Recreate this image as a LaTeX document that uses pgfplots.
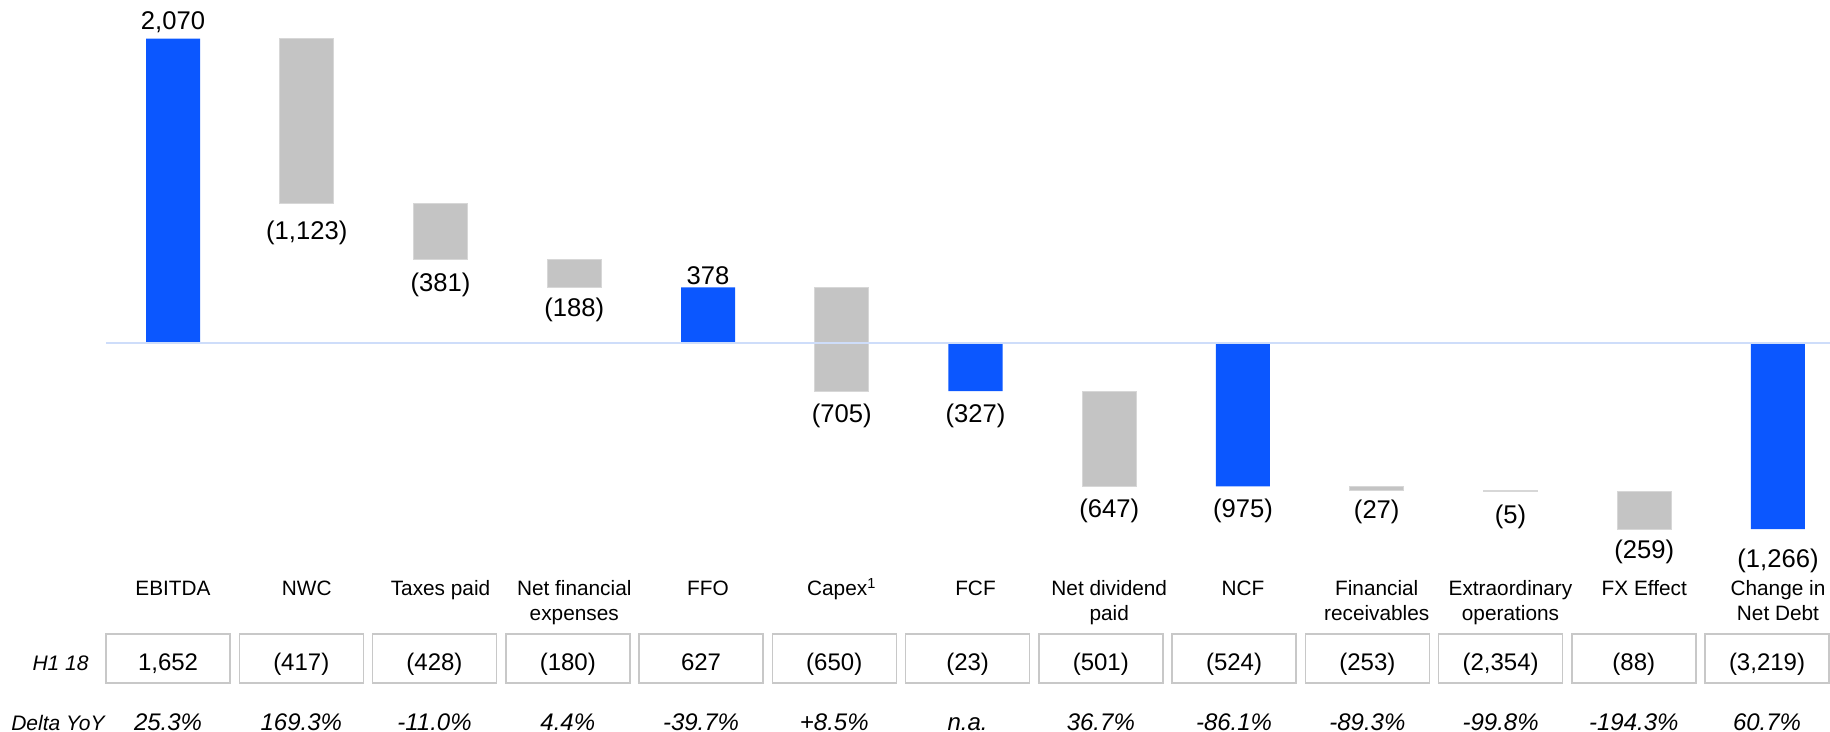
\documentclass[border=0pt]{standalone}
\usepackage{pgfplots}
\pgfplotsset{compat=1.18}
\usepackage{pgfplotstable}
\usepackage{fontspec}
\setmainfont{Liberation Sans}
\definecolor{barblue}{RGB}{11,87,255}
\definecolor{bargray}{RGB}{196,196,196}
\definecolor{bargrayedge}{RGB}{215,215,215}
\definecolor{zeroline}{RGB}{206,221,250}
\definecolor{boxgray}{RGB}{200,200,200}

\pgfplotstableread{
i base delta total
0 0 0 2070
1 2070 -1123 0
2 947 -381 0
3 566 -188 0
4 0 0 378
5 378 -705 0
6 0 0 -327
7 -327 -647 0
8 0 0 -975
9 -975 -27 0
10 -1002 -5 0
11 -1007 -259 0
12 0 0 -1266
}\wf

\newcommand\valfont{\fontsize{12.8}{15}\selectfont}
\newcommand\catfont{\fontsize{10.4}{12}\selectfont}
\newcommand\tabfont{\fontsize{12}{14}\selectfont}
\newcommand\vlab[3]{\node[anchor=base, inner sep=0pt, font=\valfont] at (axis cs:#1,#2) {#3};}
\newcommand\cat[3]{%
  \node[anchor=base, inner sep=0pt, font=\catfont] at (axis cs:#1,-1721) {#2};
  \node[anchor=base, inner sep=0pt, font=\catfont] at (axis cs:#1,-1891) {#3};}
\newcommand\tab[3]{%
  \node[draw=boxgray, line width=0.7pt, minimum width=62pt, minimum height=24.5pt, inner sep=0pt] at (axis cs:#1,-2146) {};
  \node[anchor=base, inner sep=0pt, font=\tabfont] at (axis cs:#1,-2229) {#2};
  \node[anchor=base, inner sep=0pt, font=\tabfont\itshape] at (axis cs:#1,-2636) {#3};}

\begin{document}
\begin{tikzpicture}
\begin{axis}[
  width=915pt, height=366pt, scale only axis,
  xmin=-1.2935, xmax=12.389, ymin=-2646.3, ymax=2333.3,
  hide axis, clip=false,
  ybar stacked, stack negative=on previous, bar width=27pt,
]
\draw[zeroline, line width=0.9pt] (axis cs:-0.5,0) -- (axis cs:12.389,0);
\addplot[draw=none, fill=none] table[x=i, y=base] {\wf};
\addplot[draw=bargrayedge, line width=0.4pt, fill=bargray] table[x=i, y=delta] {\wf};
\addplot[draw=none, fill=barblue] table[x=i, y=total] {\wf};

% value labels
\vlab{0}{2131}{2,070}
\vlab{1}{707}{(1,123)}
\vlab{2}{347}{(381)}
\vlab{3}{177}{(188)}
\vlab{4}{401}{378}
\vlab{5}{-544}{(705)}
\vlab{6}{-544}{(327)}
\vlab{7}{-1190}{(647)}
\vlab{8}{-1184}{(975)}
\vlab{9}{-1197}{(27)}
\vlab{10}{-1231}{(5)}
\vlab{11}{-1469}{(259)}
\vlab{12}{-1524}{(1,266)}

% category labels
\cat{0}{EBITDA}{}
\cat{1}{NWC}{}
\cat{2}{Taxes paid}{}
\cat{3}{Net financial}{expenses}
\cat{4}{FFO}{}
\cat{5}{Capex\textsuperscript{1}}{}
\cat{6}{FCF}{}
\cat{7}{Net dividend}{paid}
\cat{8}{NCF}{}
\cat{9}{Financial}{receivables}
\cat{10}{Extraordinary}{operations}
\cat{11}{FX Effect}{}
\cat{12}{Change in}{Net Debt}

% table rows
\node[anchor=base east, inner sep=0pt, font=\fontsize{10.5}{12}\selectfont\itshape] at (axis cs:-0.628,-2229) {H1 18};
\node[anchor=base east, inner sep=0pt, font=\fontsize{10.5}{12}\selectfont\itshape] at (axis cs:-0.508,-2636) {Delta YoY};
\tab{-0.037}{1,652}{25.3\%}
\tab{0.959}{(417)}{169.3\%}
\tab{1.955}{(428)}{-11.0\%}
\tab{2.952}{(180)}{4.4\%}
\tab{3.948}{627}{-39.7\%}
\tab{4.944}{(650)}{+8.5\%}
\tab{5.941}{(23)}{n.a.}
\tab{6.937}{(501)}{36.7\%}
\tab{7.933}{(524)}{-86.1\%}
\tab{8.930}{(253)}{-89.3\%}
\tab{9.926}{(2,354)}{-99.8\%}
\tab{10.922}{(88)}{-194.3\%}
\tab{11.918}{(3,219)}{60.7\%}
\end{axis}
\pgfresetboundingbox
\path (current axis.south west) rectangle (current axis.north east);
\end{tikzpicture}
\end{document}
